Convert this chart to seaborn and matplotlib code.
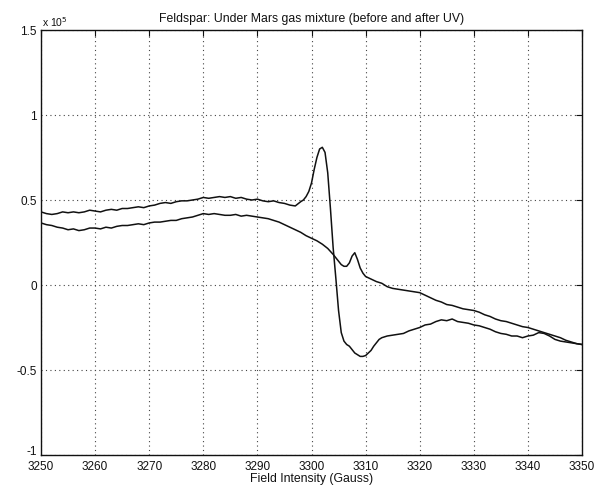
import matplotlib
matplotlib.use("Agg")
import matplotlib.pyplot as plt
import matplotlib.transforms as mtransforms
import seaborn as sns
import pandas as pd

# Field values (Gauss) and signal (x 1e5) for the spectrum with the strong line
field_a = [3250, 3251, 3252, 3253, 3254, 3255, 3256, 3257, 3258, 3259,
           3260, 3261, 3262, 3263, 3264, 3265, 3266, 3267, 3268, 3269,
           3270, 3271, 3272, 3273, 3274, 3275, 3276, 3277, 3278, 3279,
           3280, 3281, 3282, 3283, 3284, 3285, 3286, 3287, 3288, 3289,
           3290, 3291, 3292, 3293, 3294, 3295, 3296, 3297,
           3298.0, 3298.5, 3299.0, 3299.5, 3300.0, 3300.5, 3301.0, 3301.5,
           3302.0, 3302.5, 3303.0, 3303.5, 3304.0, 3304.5, 3305.0, 3305.5,
           3306.0, 3306.5, 3307.0, 3307.5, 3308.0, 3308.5, 3309.0, 3309.5,
           3310.0, 3310.5, 3311.0, 3311.5, 3312.0, 3312.5, 3313.0,
           3314, 3315, 3316, 3317, 3318, 3319, 3320, 3321, 3322, 3323,
           3324, 3325, 3326, 3327, 3328, 3329, 3330, 3331, 3332, 3333,
           3334, 3335, 3336, 3337, 3338, 3339, 3340, 3341, 3342, 3343,
           3344, 3345, 3346, 3347, 3348, 3349, 3350]
signal_a = [0.43, 0.42, 0.415, 0.42, 0.43, 0.425, 0.43, 0.425, 0.43, 0.44,
            0.435, 0.43, 0.44, 0.445, 0.44, 0.45, 0.45, 0.455, 0.46, 0.455,
            0.465, 0.47, 0.48, 0.485, 0.48, 0.49, 0.495, 0.495, 0.50, 0.505,
            0.515, 0.51, 0.515, 0.52, 0.515, 0.52, 0.51, 0.515, 0.505, 0.50,
            0.505, 0.495, 0.49, 0.495, 0.485, 0.48, 0.47, 0.465,
            0.49, 0.50, 0.52, 0.55, 0.60, 0.68, 0.75, 0.80,
            0.81, 0.78, 0.66, 0.45, 0.22, 0.04, -0.15, -0.28,
            -0.33, -0.35, -0.36, -0.38, -0.40, -0.41, -0.42, -0.42,
            -0.415, -0.40, -0.385, -0.36, -0.34, -0.32, -0.31,
            -0.30, -0.295, -0.29, -0.285, -0.27, -0.26, -0.25, -0.235, -0.23, -0.215,
            -0.205, -0.21, -0.20, -0.215, -0.22, -0.225, -0.235, -0.24, -0.25, -0.26,
            -0.275, -0.285, -0.29, -0.30, -0.30, -0.31, -0.30, -0.295, -0.28, -0.285,
            -0.30, -0.32, -0.33, -0.335, -0.34, -0.345, -0.35]

# Field values (Gauss) and signal (x 1e5) for the second spectrum
field_b = [3250, 3251, 3252, 3253, 3254, 3255, 3256, 3257, 3258, 3259,
           3260, 3261, 3262, 3263, 3264, 3265, 3266, 3267, 3268, 3269,
           3270, 3271, 3272, 3273, 3274, 3275, 3276, 3277, 3278, 3279,
           3280, 3281, 3282, 3283, 3284, 3285, 3286, 3287, 3288, 3289,
           3290, 3291, 3292, 3293, 3294, 3295, 3296, 3297, 3298, 3299,
           3300, 3301, 3302, 3303, 3304, 3305,
           3305.5, 3306.0, 3306.5, 3307.0, 3307.5, 3308.0, 3308.5, 3309.0, 3309.5,
           3310, 3311, 3312, 3313, 3314, 3315, 3316, 3317, 3318, 3319,
           3320, 3321, 3322, 3323, 3324, 3325, 3326, 3327, 3328, 3329,
           3330, 3331, 3332, 3333, 3334, 3335, 3336, 3337, 3338, 3339,
           3340, 3341, 3342, 3343, 3344, 3345, 3346, 3347, 3348, 3349, 3350]
signal_b = [0.365, 0.355, 0.35, 0.34, 0.335, 0.325, 0.33, 0.32, 0.325, 0.335,
            0.335, 0.33, 0.34, 0.335, 0.345, 0.35, 0.35, 0.355, 0.36, 0.355,
            0.365, 0.37, 0.37, 0.375, 0.38, 0.38, 0.39, 0.395, 0.40, 0.41,
            0.42, 0.415, 0.42, 0.415, 0.41, 0.41, 0.415, 0.405, 0.41, 0.405,
            0.40, 0.395, 0.39, 0.38, 0.37, 0.355, 0.34, 0.325, 0.31, 0.29,
            0.275, 0.26, 0.24, 0.215, 0.18, 0.14,
            0.12, 0.11, 0.11, 0.13, 0.17, 0.19, 0.15, 0.10, 0.07,
            0.05, 0.035, 0.02, 0.01, -0.01, -0.02, -0.025, -0.03, -0.035, -0.04,
            -0.045, -0.06, -0.075, -0.09, -0.10, -0.115, -0.12, -0.13, -0.14, -0.145,
            -0.15, -0.16, -0.175, -0.185, -0.20, -0.21, -0.215, -0.225, -0.235, -0.245,
            -0.25, -0.26, -0.27, -0.28, -0.29, -0.30, -0.31, -0.325, -0.335, -0.345, -0.35]

title = "Feldspar: Under Mars gas mixture (before and after UV)"
xlabel = "Field Intensity (Gauss)"
xticks = [3250, 3260, 3270, 3280, 3290, 3300, 3310, 3320, 3330, 3340, 3350]
yticks = [-1, -0.5, 0, 0.5, 1, 1.5]
ytick_labels = ["-1", "-0.5", "0", "0.5", "1", "1.5"]

sns.set_style("white")
plt.rcParams["font.family"] = ["Liberation Sans", "DejaVu Sans"]

df = pd.concat([
    pd.DataFrame({"field": field_a, "signal": signal_a, "run": "a"}),
    pd.DataFrame({"field": field_b, "signal": signal_b, "run": "b"}),
], ignore_index=True)

fig = plt.figure(figsize=(5.97, 4.86), dpi=100)
ax = fig.add_axes([41 / 597, 1 - 455 / 486, (582 - 41) / 597, (455 - 30) / 486])

sns.lineplot(data=df, x="field", y="signal", hue="run", units="run",
             estimator=None, sort=False, palette=["#111111", "#111111"],
             linewidth=1.1, legend=False, ax=ax)

ax.set_xlim(3250, 3350)
ax.set_ylim(-1, 1.5)
ax.set_xticks(xticks)
ax.set_xticklabels([str(t) for t in xticks])
ax.set_yticks(yticks)
ax.set_yticklabels(ytick_labels)
ax.grid(True, linestyle=(0, (1, 3)), color="#444444", linewidth=0.8)
ax.tick_params(direction="in", length=4, width=0.8, top=True, right=True,
               labelsize=8.5, colors="#111111")
ax.tick_params(axis="x", pad=4)
ax.tick_params(axis="y", pad=3)
for s in ax.spines.values():
    s.set_color("#111111")
    s.set_linewidth(1.0)

# lift the "-1" label slightly so it clears the "3250" label below it
low = ax.get_yticklabels()[0]
low.set_transform(low.get_transform()
                  + mtransforms.ScaledTranslation(0, 3.5 / 72, fig.dpi_scale_trans))

ax.set_title(title, fontsize=8.8, pad=6, color="#111111")
ax.set_xlabel(xlabel, fontsize=8.8, labelpad=0, color="#111111")
ax.set_ylabel("")
ax.text(0.002, 1.008, r"x 10$^5$", transform=ax.transAxes, fontsize=7.5,
        ha="left", va="baseline", color="#111111")

fig.savefig("out.png", dpi=100)
